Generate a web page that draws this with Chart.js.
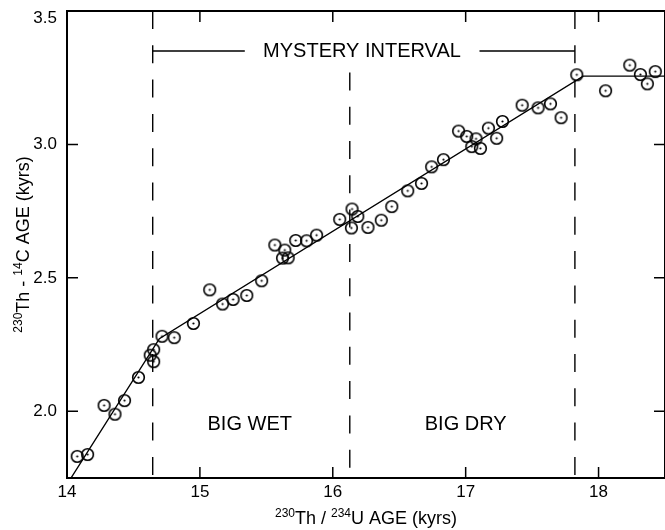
<!DOCTYPE html>
<html>
<head>
<meta charset="utf-8">
<script src="https://cdn.jsdelivr.net/npm/chart.js@4/dist/chart.umd.min.js"></script>
<style>
  html, body { margin: 0; padding: 0; background: #fff; overflow: hidden; }
</style>
</head>
<body>
<canvas id="graphEdad" width="672" height="530"></canvas>
<script>
// Edades 230Th/234U (kyrs) y diferencia 230Th - 14C (kyrs) de cada muestra
var edadTh = [
  14.077, 14.155, 14.279, 14.361, 14.433, 14.538, 14.626, 14.652, 14.652, 14.715,
  14.807, 14.951, 15.074, 15.171, 15.250, 15.353, 15.465, 15.564, 15.639, 15.622,
  15.664, 15.721, 15.803, 15.878, 16.052, 16.145, 16.188, 16.140, 16.265, 16.365,
  16.444, 16.564, 16.668, 16.744, 16.833, 16.947, 17.008, 17.078, 17.046, 17.111,
  17.171, 17.233, 17.277, 17.425, 17.545, 17.638, 17.718, 17.836, 18.053, 18.235,
  18.315, 18.367, 18.427
]
var edadDif = [
  1.831, 1.838, 2.022, 1.989, 2.040, 2.127, 2.210, 2.231, 2.186, 2.281,
  2.276, 2.329, 2.455, 2.402, 2.419, 2.434, 2.489, 2.623, 2.604, 2.574,
  2.575, 2.640, 2.639, 2.660, 2.719, 2.758, 2.730, 2.687, 2.689, 2.716,
  2.767, 2.826, 2.854, 2.916, 2.943, 3.050, 3.030, 3.021, 2.992, 2.985,
  3.061, 3.023, 3.086, 3.147, 3.137, 3.152, 3.100, 3.261, 3.201, 3.297,
  3.262, 3.227, 3.273
]

// Recta de ajuste por tramos
var ajusteX = [14.03, 14.695, 17.884, 18.5]
var ajusteY = [1.75, 2.272, 3.256, 3.256]

// Límites de los intervalos (líneas punteadas)
var limites = [14.645, 16.128, 17.822]
var inicioLimite = [3.5, 3.27, 3.5]

// Barra del "Mystery Interval"
var barraX = [14.645, 15.338, 17.104, 17.822]
var barraY = 3.35

// Textos dentro del gráfico
var rotulos = ['MYSTERY INTERVAL', 'BIG WET', 'BIG DRY']
var rotulosX = [16.22, 15.375, 17.0]
var rotulosY = [3.35, 1.95, 1.95]

var fuente = '"Liberation Sans", Arial, Helvetica, sans-serif'

// Marcador: círculo con un punto al centro
function crearMarcador() {
  var c = document.createElement('canvas')
  c.width = 15
  c.height = 15
  var g = c.getContext('2d')
  g.strokeStyle = '#000'
  g.lineWidth = 1.6
  g.beginPath()
  g.arc(7.5, 7.5, 5.8, 0, Math.PI * 2)
  g.stroke()
  g.fillStyle = '#000'
  g.beginPath()
  g.arc(7.5, 7.5, 1.1, 0, Math.PI * 2)
  g.fill()
  return c
}

// Escribe un texto con partes en superíndice, centrado en (0,0)
function textoConSuper(ctx, partes, tam) {
  var anchos = partes.map(function (p) {
    ctx.font = (p.sup ? Math.round(tam * 0.65) : tam) + 'px ' + fuente
    return ctx.measureText(p.t).width
  })
  var total = anchos.reduce(function (a, b) { return a + b }, 0)
  var x = -total / 2
  ctx.textBaseline = 'alphabetic'
  ctx.textAlign = 'left'
  partes.forEach(function (p, i) {
    ctx.font = (p.sup ? Math.round(tam * 0.65) : tam) + 'px ' + fuente
    ctx.fillText(p.t, x, p.sup ? tam * 0.35 - tam * 0.4 : tam * 0.35)
    x += anchos[i]
  })
}

// Marco, marcas hacia adentro, títulos y rótulos
var marco = {
  id: 'marco',
  afterDatasetsDraw: function (chart) {
    var ctx = chart.ctx
    var sx = chart.scales.x
    var sy = chart.scales.y
    ctx.save()
    ctx.fillStyle = '#000'
    for (var i = 0; i < rotulos.length; i++) {
      ctx.font = '20px ' + fuente
      var px = sx.getPixelForValue(rotulosX[i])
      var py = sy.getPixelForValue(rotulosY[i])
      ctx.textAlign = 'center'
      ctx.textBaseline = 'middle'
      ctx.fillText(rotulos[i], px, py)
    }
    ctx.restore()
  },
  afterDraw: function (chart) {
    var ctx = chart.ctx
    var a = chart.chartArea
    var sx = chart.scales.x
    var sy = chart.scales.y
    ctx.save()
    ctx.strokeStyle = '#000'
    ctx.lineWidth = 2
    ctx.strokeRect(a.left, a.top, a.right - a.left, a.bottom - a.top)
    ctx.lineWidth = 1.5
    ctx.beginPath()
    sx.ticks.forEach(function (t) {
      var px = sx.getPixelForValue(t.value)
      ctx.moveTo(px, a.bottom)
      ctx.lineTo(px, a.bottom - 11)
      ctx.moveTo(px, a.top)
      ctx.lineTo(px, a.top + 11)
    })
    sy.ticks.forEach(function (t) {
      var py = sy.getPixelForValue(t.value)
      ctx.moveTo(a.left, py)
      ctx.lineTo(a.left + 11, py)
      ctx.moveTo(a.right, py)
      ctx.lineTo(a.right - 11, py)
    })
    ctx.stroke()

    // La etiqueta 3.5 va un poco por debajo del borde superior
    ctx.fillStyle = '#000'
    ctx.font = '17px ' + fuente
    ctx.textAlign = 'right'
    ctx.textBaseline = 'middle'
    ctx.fillText((3.5).toFixed(1), a.left - 10, sy.getPixelForValue(3.5) + 7.5)

    // Títulos de los ejes
    ctx.save()
    ctx.translate((a.left + a.right) / 2, 518)
    textoConSuper(ctx, [{ t: '230', sup: true }, { t: 'Th / ' }, { t: '234', sup: true }, { t: 'U AGE (kyrs)' }], 18)
    ctx.restore()
    ctx.save()
    ctx.translate(23, (a.top + a.bottom) / 2)
    ctx.rotate(-Math.PI / 2)
    textoConSuper(ctx, [{ t: '230', sup: true }, { t: 'Th - ' }, { t: '14', sup: true }, { t: 'C AGE (kyrs)' }], 18)
    ctx.restore()
    ctx.restore()
  }
}

function createChart() {
  const ctx = document.getElementById('graphEdad').getContext('2d')

  var puntos = edadTh.map(function (x, i) { return { x: x, y: edadDif[i] } })
  var ajuste = ajusteX.map(function (x, i) { return { x: x, y: ajusteY[i] } })

  var datasets = [{
    type: 'scatter',
    data: puntos,
    pointStyle: crearMarcador(),
    pointRadius: 6
  }, {
    type: 'line',
    data: ajuste,
    borderColor: '#000',
    borderWidth: 1.4,
    pointRadius: 0,
    fill: false
  }, {
    type: 'line',
    data: [
      { x: barraX[0], y: barraY }, { x: barraX[1], y: barraY },
      { x: (barraX[1] + barraX[2]) / 2, y: null },
      { x: barraX[2], y: barraY }, { x: barraX[3], y: barraY }
    ],
    borderColor: '#000',
    borderWidth: 1.4,
    pointRadius: 0,
    spanGaps: false,
    fill: false
  }]

  limites.forEach(function (x, i) {
    datasets.push({
      type: 'line',
      data: [{ x: x, y: inicioLimite[i] }, { x: x, y: 1.75 }],
      borderColor: '#000',
      borderWidth: 1.4,
      borderDash: [18, 16.3],
      pointRadius: 0,
      fill: false
    })
  })

  const myChart = new Chart(ctx, {
    type: 'scatter',
    data: { datasets: datasets },
    options: {
      responsive: false,
      animation: false,
      layout: { padding: { top: 11, right: 3, left: 0, bottom: 0 } },
      plugins: { legend: { display: false }, tooltip: { enabled: false } },
      scales: {
        x: {
          type: 'linear',
          min: 14,
          max: 18.5,
          grid: { display: false, drawTicks: false },
          border: { display: false },
          ticks: {
            stepSize: 0.5,
            autoSkip: false,
            maxRotation: 0,
            padding: 4,
            color: '#000',
            font: { family: fuente, size: 17 },
            callback: function (v) { return Number.isInteger(v) ? String(v) : null }
          },
          afterFit: function (s) { s.height = 52 }
        },
        y: {
          min: 1.75,
          max: 3.5,
          grid: { display: false, drawTicks: false },
          border: { display: false },
          ticks: {
            stepSize: 0.25,
            autoSkip: false,
            padding: 10,
            color: '#000',
            font: { family: fuente, size: 17 },
            // 3.5 se escribe aparte en el plugin
            callback: function (v) {
              if (v >= 3.5) return null
              return Math.abs(v * 2 - Math.round(v * 2)) < 1e-6 ? v.toFixed(1) : null
            }
          },
          afterFit: function (s) {
            s.width = 67
            s.paddingTop = 0
            s.paddingBottom = 0
          }
        }
      }
    },
    plugins: [marco]
  })
}

createChart()
</script>
</body>
</html>
